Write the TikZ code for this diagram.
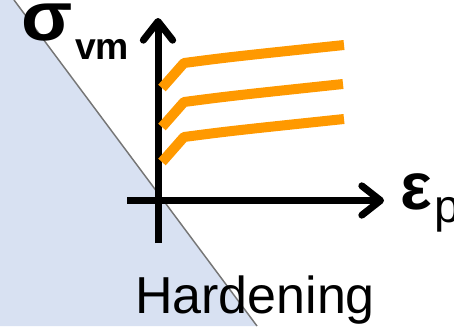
\documentclass[tikz,border=0pt]{standalone}
\usepackage{fontspec}
\setmainfont{Liberation Sans}
\usetikzlibrary{arrows.meta}
\definecolor{paneblue}{RGB}{216,225,242}
\definecolor{curveorange}{RGB}{255,153,0}
\definecolor{edgegray}{RGB}{118,118,118}

\begin{document}
\begin{tikzpicture}[
    x=0.75pt, y=-0.75pt,
    axis/.style={
        line width=5.25pt, black, line cap=butt,
        -{Straight Barb[length=14pt, width=22pt, line cap=round, line join=round]}
    },
    curve/.style={line width=7.5pt, curveorange, line join=round},
    lbl/.style={inner sep=0pt, text=black}
]
\useasboundingbox (0,0) rectangle (454,326);

% Background pane
\fill[paneblue] (0,0) -- (14,0) -- (257,326) -- (0,326) -- cycle;
\draw[edgegray, line width=1.1pt] (14,0) -- (257,326);

% Axes
\coordinate (yfoot) at (158,243);
\coordinate (ytip)  at (158,18);
\coordinate (xfoot) at (127,200.5);
\coordinate (xtip)  at (384,200.5);
\draw[axis] (yfoot) -- (ytip);
\draw[axis] (xfoot) -- (xtip);

% Hardening curves
\draw[curve] (162,88)  -- (184,63)  .. controls (230,57)  .. (344,45);
\draw[curve] (162,127) -- (184,102) .. controls (230,96)  .. (343,84);
\draw[curve] (162,162) -- (184,137) .. controls (230,131) .. (344,119);

% Labels
\node[lbl, anchor=base west] (sigma) at (21,40)
    {\bfseries\fontsize{52}{52}\selectfont\scalebox{1.08}[1]{σ}\kern2pt\raisebox{-14.5pt}{\fontsize{28}{28}\selectfont vm}};
\node[lbl, anchor=base west] (eps) at (400,209)
    {\bfseries\fontsize{50}{50}\selectfont ε\kern2pt\raisebox{-9.75pt}{\mdseries\fontsize{35}{35}\selectfont p}};
\node[lbl, anchor=base] (title) at (255,313)
    {\fontsize{39}{39}\selectfont Hardening};
\end{tikzpicture}
\end{document}
